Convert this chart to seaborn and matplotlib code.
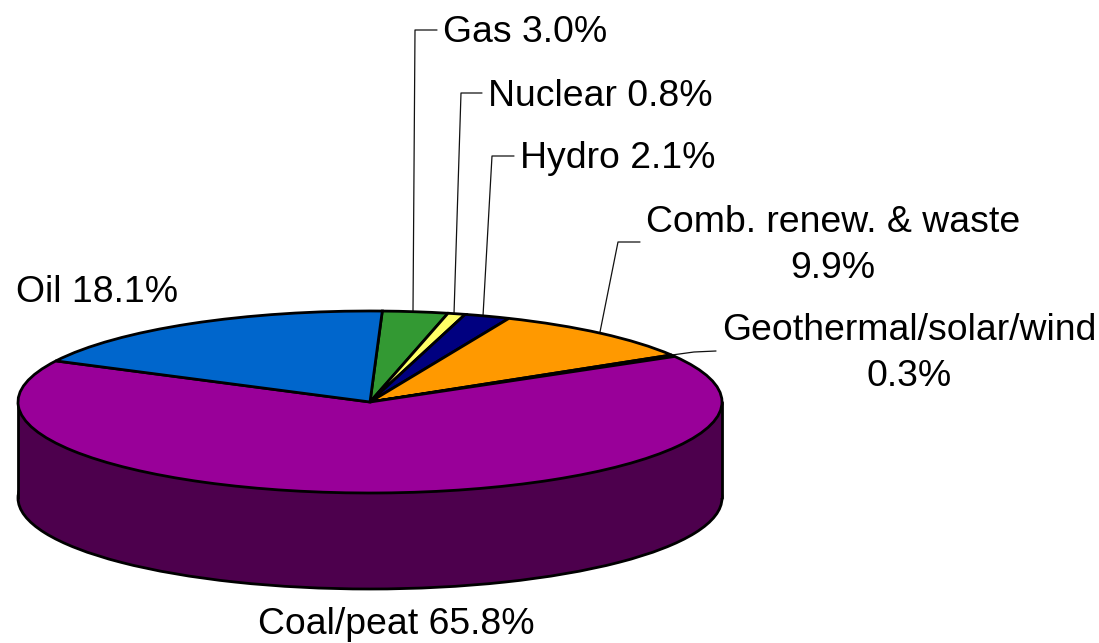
import matplotlib
matplotlib.use("Agg")
import matplotlib.pyplot as plt
import seaborn as sns

sns.set_theme(style="white")
plt.rcParams['font.family'] = ['Liberation Sans', 'DejaVu Sans']

categories = ["Gas", "Nuclear", "Hydro", "Comb. renew. & waste",
              "Geothermal/solar/wind", "Coal/peat", "Oil"]
values = [3.0, 0.8, 2.1, 9.9, 0.3, 65.8, 18.1]
colors = ["#339933", "#FFFF66", "#000080", "#FF9900", "#FFFFFF", "#990099", "#0066CC"]
labels = ["Gas 3.0%", "Nuclear 0.8%", "Hydro 2.1%", "Comb. renew. & waste\n9.9%",
          "Geothermal/solar/wind\n0.3%", "Coal/peat 65.8%", "Oil 18.1%"]

W, H = 1099, 643
cx, cy, rx, ry, depth = 370, 402, 352, 91, 96

fig = plt.figure(figsize=(W / 100, H / 100), dpi=100)
ax = fig.add_axes([0, 0, 1, 1])
px = lambda x: (x - cx) / rx
py = lambda y: (cy - y) / ry
d = depth / ry
edge = dict(edgecolor="black", linewidth=2.0)

# side wall
ax.pie([1], colors=["#4D004D"], center=(0, -d), radius=1, wedgeprops=edge)
ax.fill_between([-1, 1], [-d, -d], [0, 0], color="#4D004D", lw=0, zorder=1.5)
ax.plot([-1, -1], [-d, 0], color="black", lw=2.0, zorder=1.6, solid_capstyle="round")
ax.plot([1, 1], [-d, 0], color="black", lw=2.0, zorder=1.6, solid_capstyle="round")

# top face
wedges, _ = ax.pie(values, colors=colors, startangle=88, counterclock=False,
                   radius=1, wedgeprops=edge)
for w in wedges:
    w.set_zorder(2)

# leader lines (pixel anchors)
leaders = [
    ([413, 415, 437], [311, 30, 30]),
    ([454, 461, 482], [314, 93, 93]),
    ([483, 492, 514], [316, 156, 156]),
    ([600, 618, 640], [332, 242, 242]),
    ([672, 694, 716], [355, 352, 351]),
]
for xs, ys in leaders:
    ax.plot([px(x) for x in xs], [py(y) for y in ys], color="#111111", lw=0.9, zorder=1.4)

positions = [
    (443, 33, "left"), (488, 96, "left"), (520, 159, "left"),
    (833, 222, "center"), (909, 330, "center"), (396, 625, "center"), (97, 293, "center"),
]
line_gap = 46
for lab, (x, y, ha) in zip(labels, positions):
    for i, part in enumerate(lab.split("\n")):
        ax.text(px(x), py(y + i * line_gap), part, ha=ha, va="center",
                fontsize=26.9, color="black")

ax.set_aspect("auto")
ax.set_xlim(px(0), px(W))
ax.set_ylim(py(H), py(0))
ax.axis("off")
fig.savefig("out.png", dpi=100, facecolor="white")
